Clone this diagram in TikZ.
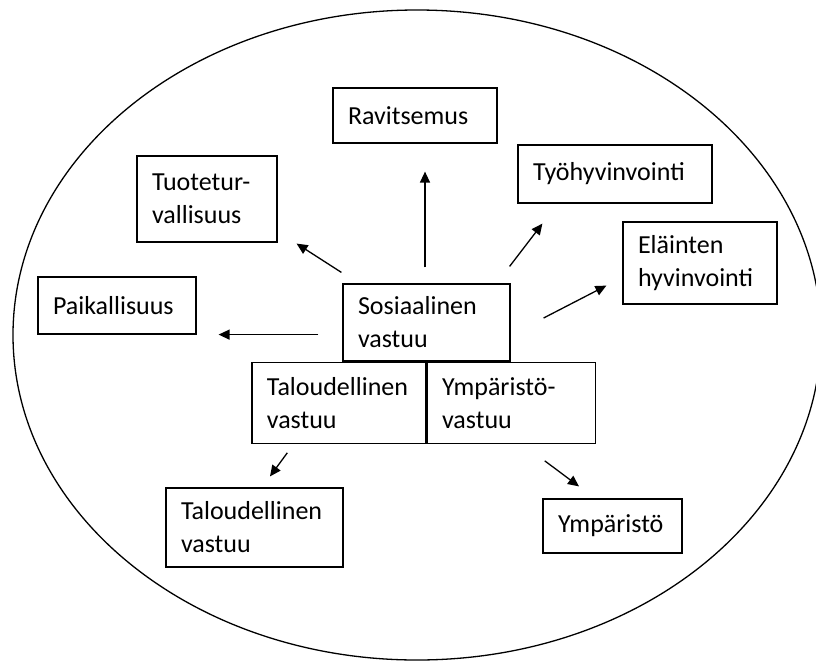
\documentclass[tikz,border=0pt]{standalone}
\usepackage{fontspec}
\setmainfont{Carlito}
\usetikzlibrary{positioning}
\usetikzlibrary{arrows.meta}
\tikzstyle{boks} = [draw=black, line width=1.2pt, align=left, inner xsep=15pt, inner ysep=2pt, font=\fontsize{26}{33}\selectfont]
\tikzstyle{nuoli} = [draw=black, line width=1.3pt, -{Triangle[length=11pt,width=10pt]}]

\begin{document}
\begin{tikzpicture}[x=1pt, y=-1pt]
\useasboundingbox (0,0) rectangle (816,662);
%\draw [help lines, step=50] (0,0) grid (816,662);

% Outer ring
\draw[line width=1.3pt] (417,335) ellipse [x radius=404, y radius=325];

% Core boxes
\node[boks, text width=137pt, minimum height=77pt]      (sosiaal)  at (426.5,322.5) {Sosiaalinen\\vastuu};
\node[boks, text width=144pt, minimum height=81pt, anchor=north east] (talvast) at (sosiaal.south) {Taloudellinen\\vastuu};
\node[boks, text width=138pt, minimum height=81pt, anchor=north west] (ymvast)  at (sosiaal.south) {Ympäristö-\\vastuu};

% Outer boxes
\node[boks, text width=134pt, minimum height=55pt]      (ravitsemus) at (415,115.5) {Ravitsemus};
\node[boks, text width=110pt, minimum height=86pt]      (tuote)      at (207,199)   {Tuotetur-\\vallisuus};
\node[boks, text width=128pt, minimum height=57pt]      (paikal)     at (117,305.5) {Paikallisuus};
\node[boks, text width=164pt, minimum height=58pt]      (tyo)        at (615,174)   {Työhyvinvointi};
\node[boks, text width=124pt, minimum height=82pt]      (elain)      at (700,263)   {Eläinten\\hyvinvointi};
\node[boks, text width=147pt, minimum height=79pt]      (talous)     at (254.5,527.5) {Taloudellinen\\vastuu};
\node[boks, text width=109pt, minimum height=54pt]      (ympar)      at (612.5,526) {Ympäristö};

% Arrows
\draw[nuoli] ([shift={(-1.5,-16)}]sosiaal.north)           -- ([shift={(10,28)}]ravitsemus.south);
\draw[nuoli] ([shift={(-1,-11)}]sosiaal.north west)        -- ([shift={(19,1)}]tuote.south east);
\draw[nuoli] ([xshift=-24pt]sosiaal.west |- paikal.south)  -- ([shift={(22,0)}]paikal.south east);
\draw[nuoli] ([shift={(-1,-17)}]sosiaal.north east)        -- ([shift={(25,20)}]tyo.south west);
\draw[nuoli] ([shift={(33,-4.5)}]sosiaal.east)             -- ([shift={(-16,-19)}]elain.south west);
\draw[nuoli] ([shift={(36,9)}]talvast.south west)          -- ([shift={(15.5,-11)}]talous.north);
\draw[nuoli] ([shift={(-51,17)}]ymvast.south east)         -- ([shift={(-33.5,-12)}]ympar.north);

\end{tikzpicture}
\end{document}
